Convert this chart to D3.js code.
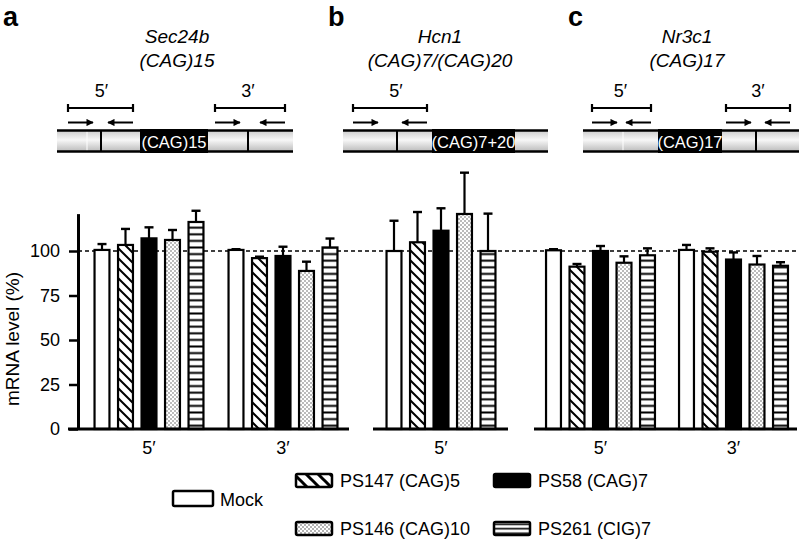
<!DOCTYPE html>
<html><head><meta charset="utf-8">
<script src="https://cdn.jsdelivr.net/npm/d3@7"></script>
<style>body{margin:0;background:#fff}svg{display:block;font-family:"Liberation Sans",Arial,Helvetica,sans-serif}</style>
</head><body><svg id="chart" width="799" height="539"></svg>
<script>
// ---------------- DATA ----------------
const panelLetters = ["a", "b", "c"];
const geneNames = ["Sec24b", "Hcn1", "Nr3c1"];
const repeatNames = ["(CAG)15", "(CAG)7/(CAG)20", "(CAG)17"];
const boxLabels = ["(CAG)15", "(CAG)7+20", "(CAG)17"];
const regionLabels = [["5′", "3′"], ["5′"], ["5′", "3′"]];
const seriesNames = ["Mock", "PS147 (CAG)5", "PS58 (CAG)7", "PS146 (CAG)10", "PS261 (CIG)7"];
const sec24bMeans = [[100.6, 103.4, 107.1, 106.2, 116.3], [100.6, 96.0, 97.2, 88.8, 102.0]];
const sec24bErrors = [[3.3, 9.0, 6.2, 5.6, 6.3], [0.4, 0.8, 5.2, 5.2, 5.0]];
const hcn1Means = [[100.0, 104.9, 111.4, 120.8, 100.0]];
const hcn1Errors = [[17.0, 17.0, 12.6, 23.2, 21.0]];
const nr3c1Means = [[100.4, 91.2, 100.0, 93.4, 97.6], [100.6, 99.6, 95.2, 92.4, 91.7]];
const nr3c1Errors = [[0.6, 1.5, 2.8, 3.6, 3.9], [2.8, 1.9, 4.0, 4.8, 2.0]];
const yTicks = [0, 25, 50, 75, 100];
const referenceLevel = 100;
const yLabel = "mRNA level (%)";

const panelMeans = [sec24bMeans, hcn1Means, nr3c1Means];
const panelErrors = [sec24bErrors, hcn1Errors, nr3c1Errors];

// ---------------- LAYOUT ----------------
const svg = d3.select("#chart");
const font = "'Liberation Sans', Arial, Helvetica, sans-serif";
const y = d3.scaleLinear().domain([0, 121]).range([429, 429 - 121 * 1.78]);
const groupRanges = [[82, 350], [374, 508], [534, 800]];
const baselineRanges = [[68, 349], [373, 508], [534, 797]];
const fills = ["#fff", "url(#hatch)", "#000", "url(#dots)", "url(#hlines)"];
const legendFills = ["#fff", "url(#hatchL)", "#000", "url(#dotsL)", "url(#hlinesL)"];

const diagramLayout = [
  { x0: 57, x1: 293, box: [140, 208], seps: [101, 248], faint: [87], amp: [[68, 133], [215, 285]], labelShift: [1, -2], title: 177 },
  { x0: 343, x1: 548, box: [432, 515], seps: [397], faint: [], amp: [[353, 427]], labelShift: [6], title: 440 },
  { x0: 583, x1: 800, box: [658, 722], seps: [756], faint: [623], amp: [[592, 651], [726, 790]], labelShift: [-1, 0], title: 687 }
];

// ---------------- DEFS ----------------
const defs = svg.append("defs");
function hatch(id, size, sw) {
  const p = defs.append("pattern").attr("id", id).attr("patternUnits", "userSpaceOnUse")
    .attr("width", size).attr("height", size);
  p.append("rect").attr("width", size).attr("height", size).attr("fill", "#fff");
  p.append("path").attr("d", `M0,0L${size},${size}M-2,${size - 2}L2,${size + 2}M${size - 2},-2L${size + 2},2`)
    .attr("stroke", "#000").attr("stroke-width", sw);
}
hatch("hatch", 10, 2);
hatch("hatchL", 12, 3);
function dots(id, s, r) {
  const p = defs.append("pattern").attr("id", id).attr("patternUnits", "userSpaceOnUse")
    .attr("width", s).attr("height", s);
  p.append("rect").attr("width", s).attr("height", s).attr("fill", "#fff");
  p.append("circle").attr("cx", s / 4).attr("cy", s / 4).attr("r", r).attr("fill", "#555");
  p.append("circle").attr("cx", 3 * s / 4).attr("cy", 3 * s / 4).attr("r", r).attr("fill", "#555");
}
dots("dots", 4, 0.75);
dots("dotsL", 4, 0.8);
function hl(id, h, sw) {
  const p = defs.append("pattern").attr("id", id).attr("patternUnits", "userSpaceOnUse")
    .attr("width", 8).attr("height", h);
  p.append("rect").attr("width", 8).attr("height", h).attr("fill", "#fff");
  p.append("line").attr("x1", 0).attr("x2", 8).attr("y1", h / 2).attr("y2", h / 2)
    .attr("stroke", "#000").attr("stroke-width", sw);
}
hl("hlines", 6.6, 2);
hl("hlinesL", 4.5, 1.6);
const grad = defs.append("linearGradient").attr("id", "geneGrad").attr("x1", 0).attr("x2", 0).attr("y1", 0).attr("y2", 1);
grad.append("stop").attr("offset", "0%").attr("stop-color", "#cfcfcf");
grad.append("stop").attr("offset", "45%").attr("stop-color", "#f7f7f7");
grad.append("stop").attr("offset", "100%").attr("stop-color", "#bdbdbd");
const mk = defs.append("marker").attr("id", "arrowhead").attr("viewBox", "0 0 10 10")
  .attr("refX", 9).attr("refY", 5).attr("markerWidth", 4).attr("markerHeight", 3.6)
  .attr("orient", "auto");
mk.append("path").attr("d", "M0,0L10,5L0,10Z").attr("fill", "#000");

// ---------------- REFERENCE LINE ----------------
svg.append("line").attr("x1", 78).attr("x2", 797)
  .attr("y1", y(referenceLevel)).attr("y2", y(referenceLevel))
  .attr("stroke", "#000").attr("stroke-width", 1.5).attr("stroke-dasharray", "4,3");

// ---------------- BARS ----------------
const xs = d3.scaleBand().domain(d3.range(seriesNames.length)).range([-58.75, 58.75])
  .paddingInner(0.28).paddingOuter(0.14);

panelLetters.forEach((letter, p) => {
  const xg = d3.scaleBand().domain(regionLabels[p]).range(groupRanges[p]);
  const g = svg.append("g");
  regionLabels[p].forEach((reg, gi) => {
    const cx0 = xg(reg) + xg.bandwidth() / 2;
    const rows = panelMeans[p][gi].map((v, si) => ({ v, e: panelErrors[p][gi][si], si }));
    rows.forEach(d => {
      const cx = cx0 + xs(d.si) + xs.bandwidth() / 2;
      g.append("line").attr("x1", cx).attr("x2", cx).attr("y1", y(d.v)).attr("y2", y(d.v + d.e))
        .attr("stroke", "#000").attr("stroke-width", 2.2);
      g.append("line").attr("x1", cx - 4.5).attr("x2", cx + 4.5).attr("y1", y(d.v + d.e)).attr("y2", y(d.v + d.e))
        .attr("stroke", "#000").attr("stroke-width", 2.4);
    });
    g.selectAll(null).data(rows).enter().append("rect")
      .attr("x", d => cx0 + xs(d.si) + 1)
      .attr("width", xs.bandwidth() - 2)
      .attr("y", d => y(d.v))
      .attr("height", d => y(0) - y(d.v))
      .attr("fill", d => fills[d.si])
      .attr("stroke", "#000").attr("stroke-width", 2.2);
    g.append("text").attr("x", cx0).attr("y", 454).attr("text-anchor", "middle")
      .attr("font-size", 18).text(reg);
  });
  g.append("line").attr("x1", baselineRanges[p][0]).attr("x2", baselineRanges[p][1])
    .attr("y1", y(0)).attr("y2", y(0)).attr("stroke", "#000").attr("stroke-width", 3);
});

// ---------------- AXIS ----------------
const ax = svg.append("g").attr("transform", "translate(78,0)")
  .call(d3.axisLeft(y).tickValues(yTicks).tickSize(9).tickPadding(9).tickSizeOuter(0));
ax.select(".domain").attr("stroke-width", 3);
ax.selectAll(".tick line").attr("stroke-width", 2.5);
ax.selectAll(".tick text").attr("font-size", 18).attr("font-family", font).attr("fill", "#000");
svg.append("text").attr("transform", "translate(19,339) rotate(-90)")
  .attr("text-anchor", "middle").attr("font-size", 19).text(yLabel);

// ---------------- HEADERS & GENE DIAGRAMS ----------------
const letterX = [3, 328, 568];
panelLetters.forEach((letter, p) => {
  const L = diagramLayout[p];
  svg.append("text").attr("x", letterX[p]).attr("y", 26).attr("font-size", 27)
    .attr("font-weight", "bold").text(letter);
  svg.append("text").attr("x", L.title).attr("y", 43).attr("text-anchor", "middle")
    .attr("font-size", 19).attr("font-style", "italic").text(geneNames[p]);
  svg.append("text").attr("x", L.title).attr("y", 67).attr("text-anchor", "middle")
    .attr("font-size", 19).attr("font-style", "italic").text(repeatNames[p]);
  const g = svg.append("g");
  g.append("rect").attr("x", L.x0).attr("y", 131).attr("width", L.x1 - L.x0).attr("height", 20)
    .attr("fill", "url(#geneGrad)");
  L.faint.forEach(fx => g.append("line").attr("x1", fx).attr("x2", fx).attr("y1", 131).attr("y2", 151)
    .attr("stroke", "#fff").attr("stroke-width", 1));
  L.seps.forEach(sx => g.append("line").attr("x1", sx).attr("x2", sx).attr("y1", 131).attr("y2", 151)
    .attr("stroke", "#000").attr("stroke-width", 2));
  [130.5, 151.5].forEach(ly => g.append("line").attr("x1", L.x0).attr("x2", L.x1).attr("y1", ly).attr("y2", ly)
    .attr("stroke", "#000").attr("stroke-width", 2.6));
  g.append("rect").attr("x", L.box[0]).attr("y", 129).attr("width", L.box[1] - L.box[0]).attr("height", 24)
    .attr("fill", "#000");
  g.append("text").attr("x", (L.box[0] + L.box[1]) / 2).attr("y", 147.5).attr("text-anchor", "middle")
    .attr("font-size", 16.5).attr("fill", "#fff").text(boxLabels[p]);
  L.amp.forEach((a, ai) => {
    g.append("line").attr("x1", a[0]).attr("x2", a[1]).attr("y1", 108).attr("y2", 108)
      .attr("stroke", "#000").attr("stroke-width", 2.2);
    a.forEach(ex => g.append("line").attr("x1", ex).attr("x2", ex).attr("y1", 104).attr("y2", 112)
      .attr("stroke", "#000").attr("stroke-width", 2.2));
    g.append("line").attr("x1", a[0]).attr("x2", a[0] + 25).attr("y1", 122.5).attr("y2", 122.5)
      .attr("stroke", "#000").attr("stroke-width", 2).attr("marker-end", "url(#arrowhead)");
    g.append("line").attr("x1", a[1]).attr("x2", a[1] - 25).attr("y1", 122.5).attr("y2", 122.5)
      .attr("stroke", "#000").attr("stroke-width", 2).attr("marker-end", "url(#arrowhead)");
    g.append("text").attr("x", (a[0] + a[1]) / 2 + L.labelShift[ai]).attr("y", 97).attr("text-anchor", "middle")
      .attr("font-size", 18).text(regionLabels[p][ai]);
  });
});

// ---------------- LEGEND ----------------
const legendItems = [
  { si: 0, x: 173, y: 491, w: 40, h: 15 },
  { si: 1, x: 296, y: 474, w: 36, h: 13 },
  { si: 2, x: 494, y: 474, w: 36, h: 13 },
  { si: 3, x: 296, y: 522, w: 36, h: 13 },
  { si: 4, x: 494, y: 522, w: 36, h: 13 }
];
const lg = svg.append("g");
legendItems.forEach(it => {
  lg.append("rect").attr("x", it.x).attr("y", it.y).attr("width", it.w).attr("height", it.h)
    .attr("rx", 1.5).attr("fill", legendFills[it.si]).attr("stroke", "#000").attr("stroke-width", 2.5);
  lg.append("text").attr("x", it.x + it.w + (it.si === 0 ? 7 : 8)).attr("y", it.y + it.h)
    .attr("font-size", 18).text(seriesNames[it.si]);
});
</script></body></html>
